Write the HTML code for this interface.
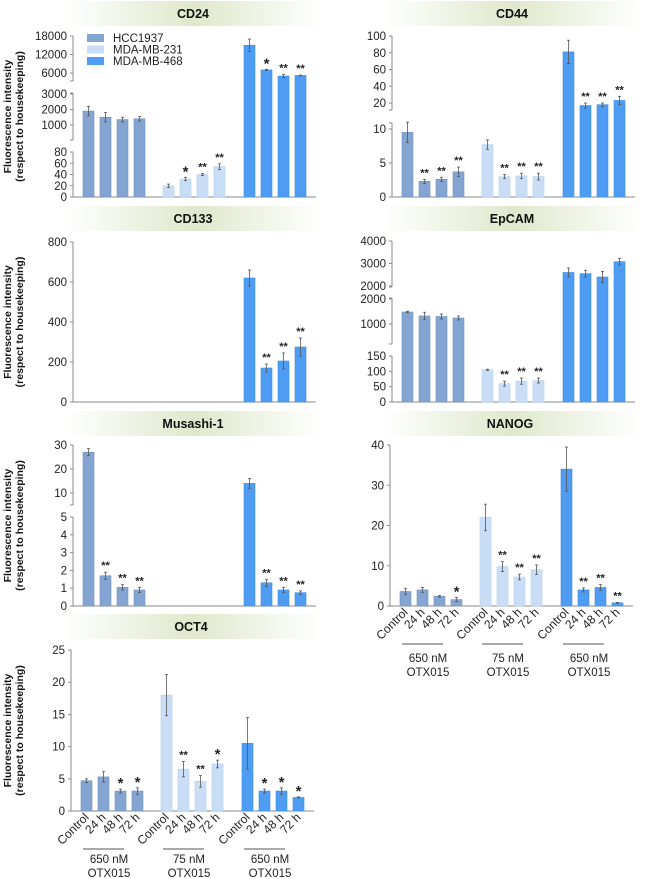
<!DOCTYPE html>
<html><head><meta charset="utf-8"><style>
html,body{margin:0;padding:0;background:#fff;}
svg{display:block;font-family:"Liberation Sans",Arial,sans-serif;}
</style></head><body>
<svg id="fig" width="650" height="879" viewBox="0 0 650 879" xmlns="http://www.w3.org/2000/svg">
<defs>
<linearGradient id="band" x1="0" x2="1" y1="0" y2="0">
<stop offset="0" stop-color="#ffffff"/><stop offset="0.5" stop-color="#dfe8cc"/><stop offset="1" stop-color="#ffffff"/>
</linearGradient>
</defs>
</svg>
<script>
// ---- data ----
const groups = ["HCC1937","MDA-MB-231","MDA-MB-468"];
const timepoints = ["Control","24 h","48 h","72 h"];
const groupLabels = ["650 nM","75 nM","650 nM"];

const cd24Hcc = [1900,1500,1350,1400], cd24HccErr=[300,300,150,150], cd24HccSig=["","","",""];
const cd24M231 = [20,32,40,54], cd24M231Err=[3,3,2,5], cd24M231Sig=["","*","**","**"];
const cd24M468 = [15000,7000,5000,5200], cd24M468Err=[2000,200,500,100], cd24M468Sig=["","*","**","**"];
const cd24TicksLow=[0,20,40,60,80], cd24TicksMid=[1000,2000,3000], cd24TicksHigh=[6000,12000,18000];

const cd44Hcc=[9.5,2.3,2.6,3.7], cd44HccErr=[1.5,0.3,0.3,0.7], cd44HccSig=["","**","**","**"];
const cd44M231=[7.7,3,3.1,3], cd44M231Err=[0.7,0.3,0.4,0.5], cd44M231Sig=["","**","**","**"];
const cd44M468=[81,17,18,23], cd44M468Err=[14,3,2,5], cd44M468Sig=["","**","**","**"];
const cd44TicksLow=[0,5,10], cd44TicksHigh=[20,40,60,80,100];

const cd133Hcc=[null,null,null,null], cd133M231=[null,null,null,null];
const cd133M468=[620,170,205,275], cd133M468Err=[40,20,40,45], cd133M468Sig=["","**","**","**"];
const cd133Ticks=[0,200,400,600,800];

const epHcc=[1480,1320,1300,1240], epHccErr=[30,150,100,80], epHccSig=["","","",""];
const epM231=[105,60,68,70], epM231Err=[2,8,10,8], epM231Sig=["","**","**","**"];
const epM468=[2600,2550,2400,3080], epM468Err=[200,150,250,150], epM468Sig=["","","",""];
const epTicksLow=[0,50,100,150], epTicksMid=[1000,2000], epTicksHigh=[2000,3000,4000];

const musHcc=[27,1.7,1.05,0.9], musHccErr=[1.5,0.2,0.15,0.15], musHccSig=["","**","**","**"];
const musM231=[null,null,null,null];
const musM468=[14,1.3,0.9,0.75], musM468Err=[2,0.2,0.15,0.1], musM468Sig=["","**","**","**"];
const musTicksLow=[0,1,2,3,4,5], musTicksHigh=[10,20,30];

const nanHcc=[3.6,4,2.4,1.6], nanHccErr=[0.8,0.6,0.2,0.5], nanHccSig=["","","","*"];
const nanM231=[22,9.8,7.2,9], nanM231Err=[3.3,1.2,0.7,1.2], nanM231Sig=["","**","**","**"];
const nanM468=[34,4,4.6,0.8], nanM468Err=[5.5,0.5,0.7,0.1], nanM468Sig=["","**","**","**"];
const nanTicks=[0,10,20,30,40];

const octHcc=[4.7,5.3,3.1,3.1], octHccErr=[0.3,0.8,0.3,0.5], octHccSig=["","","*","*"];
const octM231=[18,6.5,4.6,7.3], octM231Err=[3.2,1.2,0.9,0.6], octM231Sig=["","**","**","*"];
const octM468=[10.5,3.1,3.1,2.1], octM468Err=[4,0.3,0.5,0.1], octM468Sig=["","*","*","*"];
const octTicks=[0,5,10,15,20,25];

// ---- drawing ----
const NS="http://www.w3.org/2000/svg";
const svg=document.getElementById('fig');
const colors=["#84a5d1","#c9def6","#4f9df2"];
const edges=["#6f92c2","#b5cfee","#3c8ae3"];
function mk(tag,attrs,parent){const e=document.createElementNS(NS,tag);for(const k in attrs)e.setAttribute(k,attrs[k]);(parent||svg).appendChild(e);return e;}

function panel(c){
  const g=mk('g',{});
  
  
  const band=mk('rect',{x:c.ax-8,y:c.bandY,width:258,height:25,fill:'url(#band)'},g);
  
  
  const t=mk('text',{x:c.ax+120,y:c.bandY+17,'text-anchor':'middle','font-size':'12.5','font-weight':'bold',fill:'#111'},g);
  t.textContent=c.title;
  
  
  function ySeg(s,v){return s.ya+(v-s.va)*(s.yb-s.ya)/(s.vb-s.va);}
  function yOf(v){
    let s=c.segs[c.segs.length-1];
    for(const sg of c.segs){if(v<=sg.hi){s=sg;break;}}
    return ySeg(s,v);
  }
  c.segs.forEach((s)=>{
    const l=mk('line',{x1:c.ax,x2:c.ax,y1:s.axB,y2:s.axT,stroke:'#8a8a8a','stroke-width':1},g);
    
    
    mk('line',{x1:c.ax-3,x2:c.ax,y1:s.axB,y2:s.axB,stroke:'#8a8a8a'},g);
    mk('line',{x1:c.ax-3,x2:c.ax,y1:s.axT,y2:s.axT,stroke:'#8a8a8a'},g);
    s.ticks.forEach(tv=>{
      const y=ySeg(s,tv);
      mk('line',{x1:c.ax-3,x2:c.ax,y1:y,y2:y,stroke:'#8a8a8a'},g);
      const tl=mk('text',{x:c.ax-6,y:y+4,'text-anchor':'end','font-size':'11.5',fill:'#222'},g);
      tl.textContent=tv;
      
      
    });
  });
  const xa=mk('line',{x1:c.ax,x2:c.ax+243,y1:c.base,y2:c.base,stroke:'#8a8a8a'},g);
  
  
  const offs=[10,90,171], pitch=17, w=11;
  c.series.forEach((ser,gi)=>{
    ser.vals.forEach((v,i)=>{
      const x=c.ax+offs[gi]+i*pitch;
      if(v!==null){
        const y=yOf(v);
        const r=mk('rect',{x:x,y:y,width:w,height:c.base-y,fill:colors[gi],stroke:edges[gi],'stroke-width':0.6},g);
        
        
        const e=ser.err[i], cx=x+w/2;
        const yt=yOf(v+e), yb=yOf(v-e);
        mk('line',{x1:cx,x2:cx,y1:yt,y2:yb,stroke:'#555','stroke-width':0.8},g);
        mk('line',{x1:cx-1.5,x2:cx+1.5,y1:yt,y2:yt,stroke:'#555','stroke-width':0.8},g);
        mk('line',{x1:cx-1.5,x2:cx+1.5,y1:yb,y2:yb,stroke:'#555','stroke-width':0.8},g);
        const sg=ser.sig[i];
        if(sg){
          const st=mk('text',{x:cx,y:sg==='*'?yt-1:yt-3,'text-anchor':'middle','font-size':sg==='*'?'15':'11','font-weight':'bold',fill:'#222'},g);
          st.textContent=sg;
          
          
        }
      }
      if(c.xlabels){
        const cx=x+w/2+3, ly=c.base+7;
        const xl=mk('text',{x:cx,y:ly,'text-anchor':'end','font-size':'12',fill:'#222',transform:'rotate(-45 '+cx+' '+ly+')'},g);
        xl.textContent=timepoints[i];
        
        
      }
    });
    if(c.xlabels){
      const gx=c.ax+offs[gi];
      mk('line',{x1:gx+2,x2:gx+43,y1:c.base+38,y2:c.base+38,stroke:'#777','stroke-width':1.2},g);
      const gc=gx+28;
      const a=mk('text',{x:gc,y:c.base+c.gl1,'text-anchor':'middle','font-size':'11.5',fill:'#222'},g);
      a.textContent=groupLabels[gi];
      
      
      const b=mk('text',{x:gc,y:c.base+c.gl1+14,'text-anchor':'middle','font-size':'11.5',fill:'#222'},g);
      b.textContent='OTX015';
      
      
    }
  });
  if(c.ylabel){
    const cy=(c.top+c.base)/2;
    const y1=mk('text',{x:11,y:cy,'text-anchor':'middle','font-size':'10.5','font-weight':'bold',fill:'#111',transform:'rotate(-90 11 '+cy+')'},g);
    y1.textContent='Fluorescence intensity';
    
    
    const y2=mk('text',{x:23,y:cy,'text-anchor':'middle','font-size':'10.5','font-weight':'bold',fill:'#111',transform:'rotate(-90 23 '+cy+')'},g);
    y2.textContent='(respect to housekeeping)';
    
    
  }
}
function S(vals,err,sig){return {vals:vals,err:err||[0,0,0,0],sig:sig||["","","",""]};}

panel({id:'cd24',title:'CD24',ax:73,base:197,top:36,bandY:1,ylabel:true,
 segs:[{hi:100,va:0,ya:197,vb:80,yb:152,axB:197,axT:152,ticks:cd24TicksLow},
       {hi:3200,va:1000,ya:125,vb:3000,yb:94,axB:140,axT:93,ticks:cd24TicksMid},
       {hi:1e9,va:6000,ya:73,vb:18000,yb:36,axB:81,axT:36,ticks:cd24TicksHigh}],
 series:[S(cd24Hcc,cd24HccErr,cd24HccSig),S(cd24M231,cd24M231Err,cd24M231Sig),S(cd24M468,cd24M468Err,cd24M468Sig)]});
panel({id:'cd44',title:'CD44',ax:392,base:197,top:36,bandY:1,
 segs:[{hi:11,va:0,ya:197,vb:10,yb:129,axB:197,axT:123,ticks:cd44TicksLow},
       {hi:1e9,va:20,ya:103,vb:100,yb:36,axB:110,axT:36,ticks:cd44TicksHigh}],
 series:[S(cd44Hcc,cd44HccErr,cd44HccSig),S(cd44M231,cd44M231Err,cd44M231Sig),S(cd44M468,cd44M468Err,cd44M468Sig)]});
panel({id:'cd133',title:'CD133',ax:73,base:402,top:242,bandY:206,ylabel:true,
 segs:[{hi:1e9,va:0,ya:402,vb:800,yb:242,axB:402,axT:242,ticks:cd133Ticks}],
 series:[S(cd133Hcc),S(cd133M231),S(cd133M468,cd133M468Err,cd133M468Sig)]});
panel({id:'epcam',title:'EpCAM',ax:392,base:402,top:241,bandY:206,
 segs:[{hi:160,va:0,ya:402,vb:150,yb:356,axB:402,axT:356,ticks:epTicksLow},
       {hi:2000,va:1000,ya:324,vb:2000,yb:299,axB:344,axT:298,ticks:epTicksMid},
       {hi:1e9,va:2000,ya:286,vb:4000,yb:241,axB:287,axT:241,ticks:epTicksHigh}],
 series:[S(epHcc,epHccErr,epHccSig),S(epM231,epM231Err,epM231Sig),S(epM468,epM468Err,epM468Sig)]});
panel({id:'musashi',title:'Musashi-1',ax:73,base:606,top:445,bandY:411,ylabel:true,
 segs:[{hi:5,va:0,ya:606,vb:5,yb:517,axB:606,axT:517,ticks:musTicksLow},
       {hi:1e9,va:10,ya:493,vb:30,yb:445,axB:505,axT:445,ticks:musTicksHigh}],
 series:[S(musHcc,musHccErr,musHccSig),S(musM231),S(musM468,musM468Err,musM468Sig)]});
panel({id:'nanog',title:'NANOG',ax:390,base:606,top:445,bandY:411,xlabels:true,gl1:56,
 segs:[{hi:1e9,va:0,ya:606,vb:40,yb:445,axB:606,axT:445,ticks:nanTicks}],
 series:[S(nanHcc,nanHccErr,nanHccSig),S(nanM231,nanM231Err,nanM231Sig),S(nanM468,nanM468Err,nanM468Sig)]});
panel({id:'oct4',title:'OCT4',ax:71,base:811,top:650,bandY:614,ylabel:true,xlabels:true,gl1:52,
 segs:[{hi:1e9,va:0,ya:811,vb:25,yb:650,axB:811,axT:650,ticks:octTicks}],
 series:[S(octHcc,octHccErr,octHccSig),S(octM231,octM231Err,octM231Sig),S(octM468,octM468Err,octM468Sig)]});

groups.forEach((nm,i)=>{
  const y=34+i*11.5;
  const sw=mk('rect',{x:87,y:y,width:17,height:8,fill:colors[i]});
  
  
  const tx=mk('text',{x:113,y:y+8,'font-size':'11.5',fill:'#222'});
  tx.textContent=nm;
  
  
});
</script>
</body></html>
